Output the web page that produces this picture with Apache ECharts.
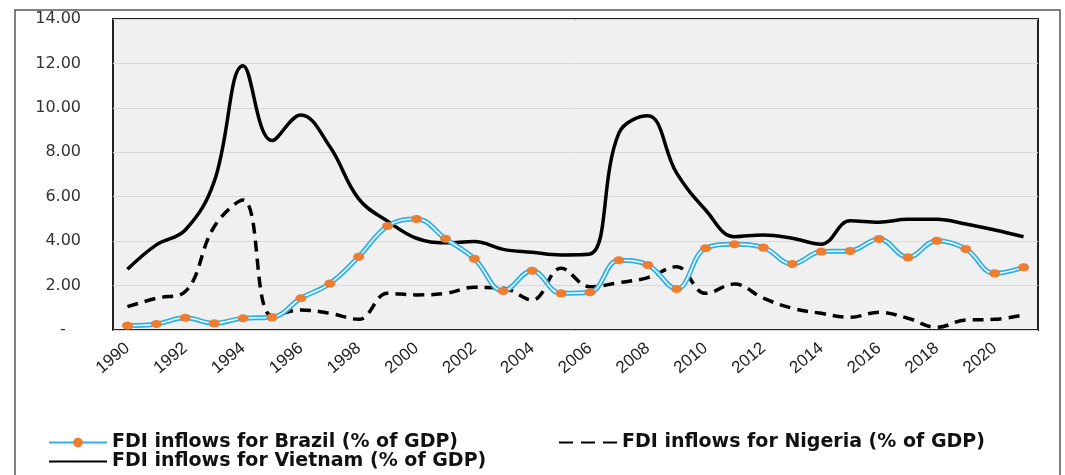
<!DOCTYPE html>
<html>
<head>
<meta charset="utf-8">
<script src="https://cdn.jsdelivr.net/npm/echarts@6/dist/echarts.min.js"></script>
<style>
  html, body { margin: 0; padding: 0; background: #fff; }
  #chart { width: 1065px; height: 475px; }
</style>
</head>
<body>
<div id="chart"></div>
<script>
// data
const years = ['1990', '1991', '1992', '1993', '1994', '1995', '1996', '1997', '1998', '1999',
    '2000', '2001', '2002', '2003', '2004', '2005', '2006', '2007', '2008', '2009',
    '2010', '2011', '2012', '2013', '2014', '2015', '2016', '2017', '2018', '2019',
    '2020', '2021'];

const brazil = [0.20, 0.27, 0.55, 0.30, 0.53, 0.57, 1.43, 2.09, 3.30, 4.68,
    5.00, 4.11, 3.21, 1.76, 2.67, 1.65, 1.70, 3.14, 2.93, 1.85,
    3.68, 3.86, 3.71, 2.97, 3.53, 3.56, 4.10, 3.27, 4.02, 3.65,
    2.55, 2.82];

const nigeria = [1.05, 1.43, 1.73, 4.65, 5.85, 0.63, 0.90, 0.75, 0.48, 1.65,
    1.58, 1.65, 1.92, 1.88, 1.35, 2.78, 1.95, 2.13, 2.36, 2.85,
    1.65, 2.07, 1.43, 0.98, 0.75, 0.57, 0.80, 0.53, 0.12, 0.45,
    0.48, 0.68];

const vietnam = [2.73, 3.83, 4.50, 6.68, 11.90, 8.53, 9.68, 8.26, 5.90, 4.90,
    4.13, 3.93, 3.98, 3.63, 3.50, 3.38, 3.42, 8.86, 9.64, 7.06,
    5.40, 4.20, 4.28, 4.13, 3.86, 4.92, 4.85, 4.98, 4.98, 4.77,
    4.50, 4.20];

const names = {
    brazil: 'FDI inflows for Brazil (% of GDP)',
    nigeria: 'FDI inflows for Nigeria (% of GDP)',
    vietnam: 'FDI inflows for Vietnam (% of GDP)',
};

const chart = echarts.init(document.getElementById('chart'));

const legendText = {
    fontFamily: 'DejaVu Sans',
    fontWeight: 'bold',
    fontSize: 19,
    color: '#111',
};

function legendAt(item, left, top) {
    return {
        data: [item],
        left: left,
        top: top,
        itemWidth: 58,
        itemHeight: 12,
        textStyle: legendText,
    };
}

const option = {
    backgroundColor: '#fff',
    animation: false,
    graphic: [
        {
            type: 'rect',
            shape: { x: 15, y: 10, width: 1045, height: 480 },
            style: { fill: 'none', stroke: '#555', lineWidth: 1.5 },
            silent: true,
        },
    ],
    grid: {
        left: 113,
        top: 19,
        right: 27,
        bottom: 145,
        show: true,
        backgroundColor: '#f0f0f0',
        borderColor: '#222',
        borderWidth: 2,
    },
    legend: [
        legendAt({ name: names.brazil }, 43, 428),
        legendAt({ name: names.nigeria, itemStyle: { opacity: 0 }, lineStyle: { type: [14, 8] } }, 553, 428),
        legendAt({ name: names.vietnam, itemStyle: { opacity: 0 } }, 43, 447),
    ],
    xAxis: {
        type: 'category',
        data: years,
        boundaryGap: true,
        axisLine: { show: false },
        axisTick: { show: false },
        axisLabel: {
            interval: 1,
            rotate: 40,
            margin: 16,
            fontFamily: 'Liberation Sans',
            fontSize: 17,
            color: '#222',
        },
    },
    yAxis: {
        type: 'value',
        min: 0,
        max: 14,
        interval: 2,
        axisLine: { show: false },
        axisTick: { show: false },
        splitLine: { lineStyle: { color: '#d9d9d9', width: 1 } },
        axisLabel: {
            margin: 32,
            fontFamily: 'DejaVu Sans',
            fontSize: 16,
            color: '#333',
            formatter: v => (v === 0 ? '-   ' : v.toFixed(2)),
        },
    },
    series: [
        {
            name: names.brazil,
            type: 'line',
            data: brazil,
            smooth: 0.4,
            symbol: 'none',
            lineStyle: { color: '#2fb0e6', width: 5 },
            itemStyle: { color: '#ed7d31' },
            z: 3,
        },
        {
            name: 'brazil-inner',
            type: 'line',
            data: brazil,
            smooth: 0.4,
            symbol: 'circle',
            symbolSize: [11, 8],
            showAllSymbol: true,
            lineStyle: { color: '#ffffff', width: 1.5 },
            itemStyle: { color: '#ed7d31' },
            z: 4,
        },
        {
            name: names.nigeria,
            type: 'line',
            data: nigeria,
            smooth: 0.4,
            symbol: 'none',
            lineStyle: { color: '#000', width: 3.5, type: [11, 7] },
            itemStyle: { color: '#000' },
            z: 2,
        },
        {
            name: names.vietnam,
            type: 'line',
            data: vietnam,
            smooth: 0.4,
            symbol: 'none',
            lineStyle: { color: '#000', width: 3.5 },
            itemStyle: { color: '#000' },
            z: 2,
        },
    ],
};

chart.setOption(option);
</script>
</body>
</html>
